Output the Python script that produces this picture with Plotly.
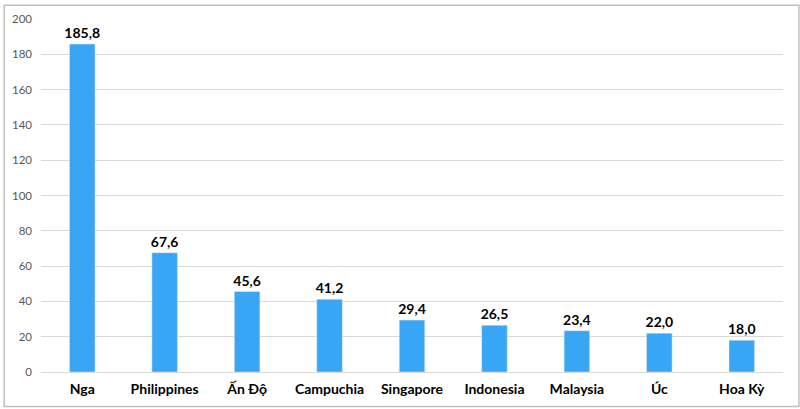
import plotly.graph_objects as go

countries = ["Nga", "Philippines", "Ấn Độ", "Campuchia", "Singapore",
             "Indonesia", "Malaysia", "Úc", "Hoa Kỳ"]
values = [185.8, 67.6, 45.6, 41.2, 29.4, 26.5, 23.4, 22.0, 18.0]
labels = [f"{v:.1f}".replace(".", ",") for v in values]

W, H = 800, 409
L, R, T, B = 38, 17, 15, 36
FONT = "Lato, Open Sans, Liberation Sans"

fig = go.Figure(go.Bar(
    x=countries,
    y=values,
    text=labels,
    textposition="outside",
    constraintext="none",
    textfont=dict(family=FONT, size=14, color="#000000", weight="bold"),
    marker=dict(color="#38A5F5"),
    width=0.31,
    cliponaxis=False,
))

pw = W - L - R
ph = H - T - B
fig.add_shape(type="rect", xref="paper", yref="paper",
              x0=-(L - 1) / pw, x1=1 + (R - 1) / pw,
              y0=-(B - 1) / ph, y1=1 + (T - 1) / ph,
              line=dict(color="#bfbfbf", width=1.5))

fig.update_layout(
    width=W, height=H,
    margin=dict(l=L, r=R, t=T, b=B),
    plot_bgcolor="white",
    paper_bgcolor="white",
    showlegend=False,
    xaxis=dict(
        tickfont=dict(family=FONT, size=14, color="#000000", weight="bold"),
        ticklabelstandoff=7,
        showline=False,
        showgrid=False,
    ),
    yaxis=dict(
        range=[0, 200],
        dtick=20,
        tickfont=dict(family=FONT, size=11.5, color="#595959"),
        gridcolor="#d9d9d9",
        gridwidth=1,
        zeroline=True,
        zerolinecolor="#d9d9d9",
        zerolinewidth=1,
        ticklabelstandoff=8,
    ),
)

# page margin off so the figure sits at the window edge
fig.write_html("out.html", config={"displayModeBar": False},
               post_script="document.body.style.margin='0';")
